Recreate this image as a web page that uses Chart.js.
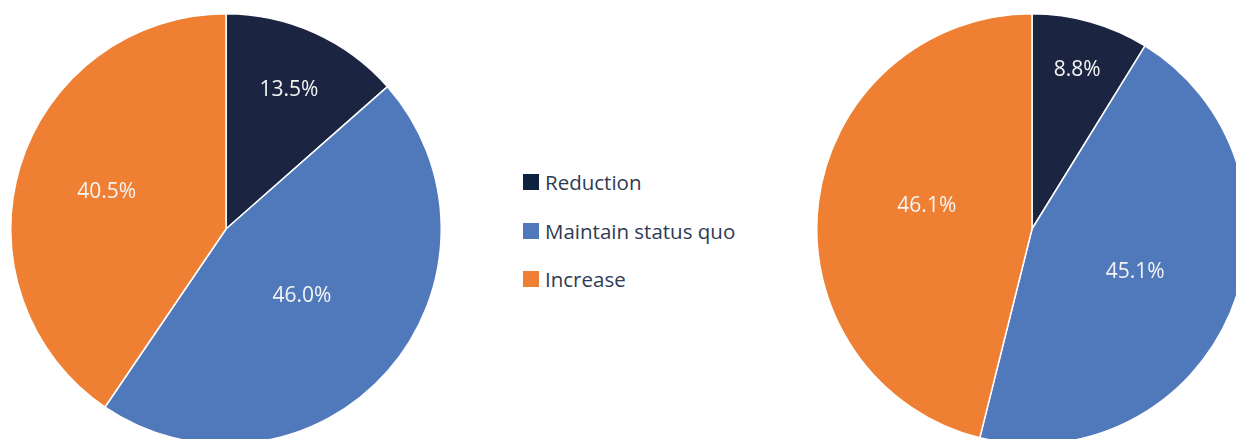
<!DOCTYPE html>
<html>
<head>
<meta charset="utf-8">
<script src="https://cdn.jsdelivr.net/npm/chart.js@4.4.1/dist/chart.umd.min.js"></script>
<style>
  html, body { margin: 0; padding: 0; background: #ffffff; }
  body { width: 1236px; height: 439px; overflow: hidden; position: relative; font-family: "Open Sans", sans-serif; }
  canvas { position: absolute; }
  #c1 { left: 10px; top: 13px; }
  #c2 { left: 816px; top: 13px; }
  #legend { position: absolute; left: 523px; top: 158px; }
  .item { display: flex; align-items: center; height: 48.5px; font-size: 20.5px; color: #2e3b54; }
  .box { width: 16px; height: 16px; margin-right: 6px; }
</style>
</head>
<body>
<canvas id="c1" width="432" height="432"></canvas>
<div id="legend"></div>
<canvas id="c2" width="432" height="432"></canvas>
<script>
const categories = ["Reduction", "Maintain status quo", "Increase"];
const leftValues = [13.5, 46.0, 40.5];
const rightValues = [8.8, 45.1, 46.1];
const sliceColors = ["#1b2541", "#5079bc", "#ef7f33"];
const legendColors = ["#0f2140", "#5079bc", "#ef7f33"];

// legend
const legend = document.getElementById('legend');
categories.forEach((c, i) => {
  const d = document.createElement('div');
  d.className = 'item';
  d.innerHTML = '<span class="box" style="background:' + legendColors[i] + '"></span><span>' + c + '</span>';
  legend.appendChild(d);
});

const labelPlugin = {
  id: 'sliceLabels',
  afterDatasetsDraw(chart, args, opts) {
    const ctx = chart.ctx;
    const meta = chart.getDatasetMeta(0);
    const data = chart.data.datasets[0].data;
    ctx.save();
    ctx.font = '21px "Open Sans", sans-serif';
    ctx.fillStyle = '#f4f4f4';
    ctx.textAlign = 'center';
    ctx.textBaseline = 'middle';
    meta.data.forEach((arc, i) => {
      const p = arc.getProps(['x', 'y', 'startAngle', 'endAngle', 'outerRadius'], true);
      const mid = (p.startAngle + p.endAngle) / 2 + opts.shift[i];
      const r = p.outerRadius * opts.radii[i];
      ctx.fillText(data[i].toFixed(1) + '%', p.x + Math.cos(mid) * r, p.y + Math.sin(mid) * r);
    });
    ctx.restore();
  }
};

function makePie(id, values, radii, shift) {
  return new Chart(document.getElementById(id), {
    type: 'pie',
    data: {
      labels: categories,
      datasets: [{
        data: values,
        backgroundColor: sliceColors,
        borderColor: '#ffffff',
        borderWidth: 1.5,
        hoverOffset: 0
      }]
    },
    options: {
      responsive: false,
      animation: false,
      layout: { padding: 0 },
      events: [],
      plugins: {
        legend: { display: false },
        tooltip: { enabled: false },
        sliceLabels: { radii: radii, shift: shift }
      }
    },
    plugins: [labelPlugin]
  });
}

makePie('c1', leftValues, [0.71, 0.47, 0.58], [0, 0, 0]);
makePie('c2', rightValues, [0.77, 0.52, 0.5], [0, 0, 0.09]);
</script>
</body>
</html>
